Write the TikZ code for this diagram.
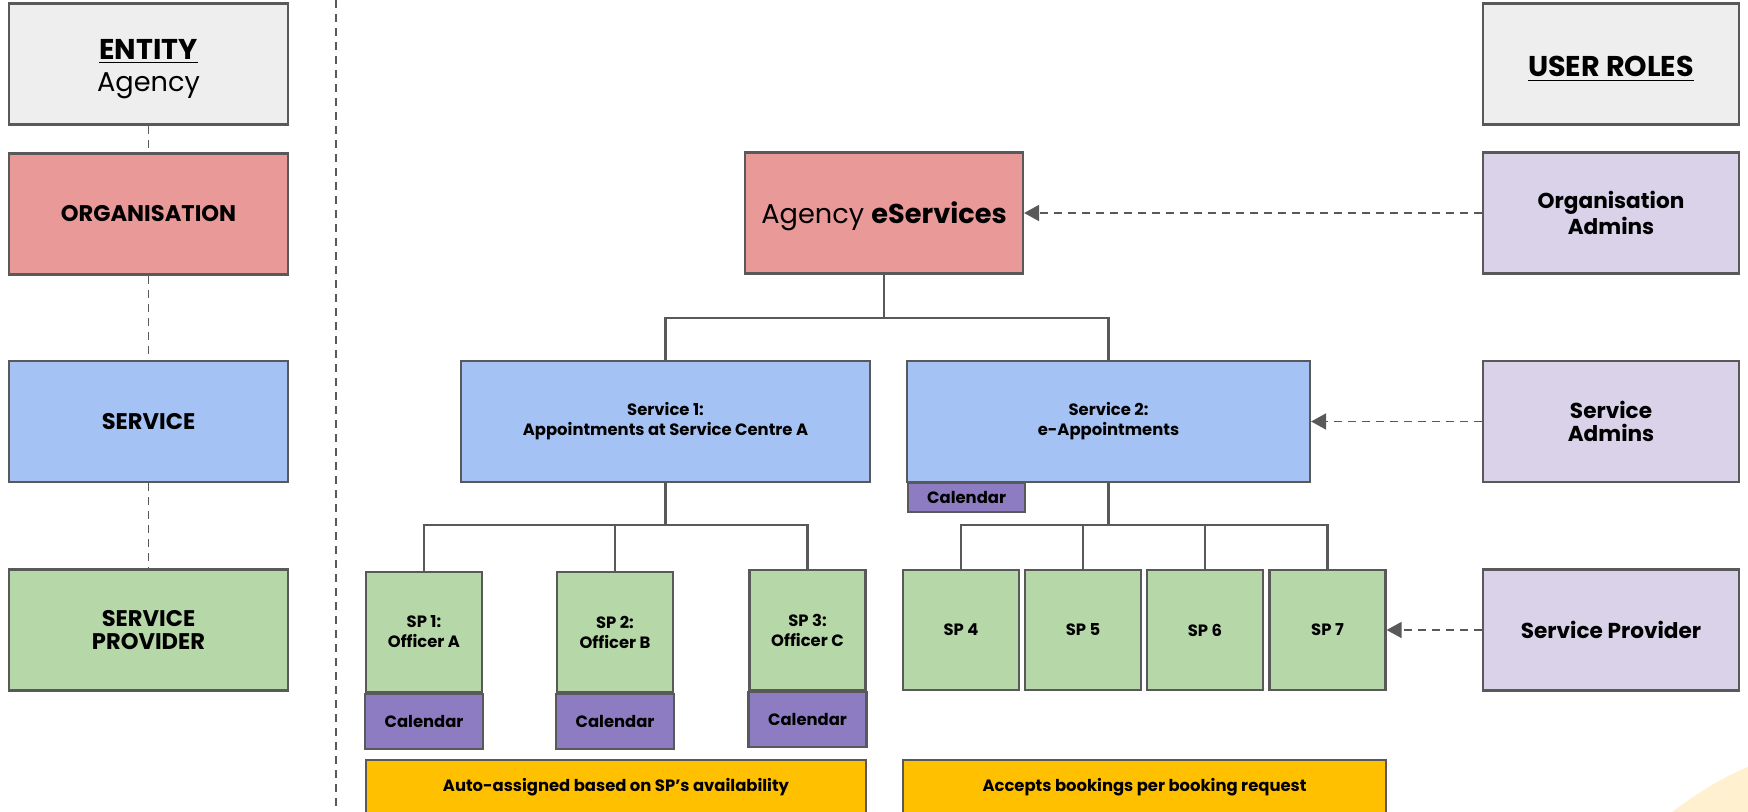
\documentclass[tikz,border=0pt]{standalone}
\usepackage{fontspec}
\setmainfont{Poppins}
\usetikzlibrary{arrows.meta}
\definecolor{linec}{HTML}{595959}
\definecolor{greyf}{HTML}{EEEEEE}
\definecolor{redf}{HTML}{EA9999}
\definecolor{bluef}{HTML}{A4C2F4}
\definecolor{greenf}{HTML}{B6D7A8}
\definecolor{lavf}{HTML}{D9D2E9}
\definecolor{calf}{HTML}{8E7CC3}
\definecolor{yelf}{HTML}{FFC000}
\definecolor{blobf}{HTML}{FFF0CF}
\newcommand{\fHead}{\fontsize{13.6}{16}\selectfont}
\newcommand{\fHeadB}{\fontsize{14.3}{16}\selectfont\bfseries}
\newcommand{\fMid}{\fontsize{11.3}{11.6}\selectfont\bfseries}
\newcommand{\fRole}{\fontsize{10.8}{11.6}\selectfont\bfseries}
\newcommand{\fSmall}{\fontsize{8.2}{10}\selectfont\bfseries}
\begin{document}
\begin{tikzpicture}[x=0.5pt,y=-0.5pt,
  box/.style={draw=linec, line width=1.1pt, inner sep=0pt, align=center, text=black},
  lbl/.style={inner sep=0pt, anchor=base, text=black},
  wh/.style 2 args={minimum width={#1*0.5pt}, minimum height={#2*0.5pt}},
  conn/.style={draw=linec, line width=1.1pt},
  dconn/.style={draw=linec, line width=0.9pt, dash pattern=on 4pt off 3pt},
  arr/.style={draw=linec, line width=0.9pt, dash pattern=on 4pt off 3pt, -{Triangle[length=7.5pt,width=8pt]}}
]
\useasboundingbox (0,0) rectangle (1748,812);
\fill[white] (0,0) rectangle (1748,812);
% background blob
\fill[blobf] (1672,812) .. controls (1692,797) and (1722,777) .. (1748,767) -- (1748,812) -- cycle;

% separator
\coordinate (septop) at (336,0);
\coordinate (sepbot) at (336,812);
\draw[dconn] (septop) -- (sepbot);

% left column
\node[box, fill=greyf, wh={279}{121}] (entity) at (148.5,64) {};
\node[lbl, font=\fHeadB] (entityT) at (148.5,60) {\underline{ENTITY}};
\node[lbl, font=\fHead] (entityA) at (148.5,92) {Agency};
\node[box, fill=redf, wh={279}{121}, font=\fMid] (org) at (148.5,214) {ORGANISATION};
\node[box, fill=bluef, wh={279}{121}, font=\fMid] (svc) at (148.5,421.5) {SERVICE};
\node[box, fill=greenf, wh={279}{121}, font=\fMid] (sprov) at (148.5,630) {SERVICE\\PROVIDER};
\draw[dconn] (entity.south) -- (org.north);
\draw[dconn] (org.south) -- (svc.north);
\draw[dconn] (svc.south) -- (sprov.north);

% right column
\node[box, fill=greyf, wh={256}{121}] (roles) at (1611,64) {};
\node[lbl, font=\fHeadB] (rolesT) at (1611,77) {\underline{USER ROLES}};
\node[box, fill=lavf, wh={256}{121}, font=\fRole] (orgadm) at (1611,213) {Organisation\\Admins};
\node[box, fill=lavf, wh={256}{121}, font=\fRole] (svcadm) at (1611,421.5) {Service\\Admins};
\node[box, fill=lavf, wh={256}{121}, font=\fRole] (spadm) at (1611,630) {Service Provider};

% main tree
\node[box, fill=redf, wh={278}{121}] (eserv) at (884,213) {};
\node[lbl, font=\fHead] (eservT) at (884,224) {Agency \textbf{eServices}};
\node[box, fill=bluef, wh={409}{121}, font=\fSmall] (svc1) at (665.5,421.5) {Service 1:\\Appointments at Service Centre A};
\node[box, fill=bluef, wh={403}{121}, font=\fSmall] (svc2) at (1108.5,421.5) {Service 2:\\e-Appointments};
\node[box, fill=calf, wh={117}{29}, font=\fSmall, anchor=north west] (cal0) at (907,482) {Calendar};

\node[box, fill=greenf, wh={116}{120}, font=\fSmall] (sp1) at (424,632) {SP 1:\\Officer A};
\node[box, fill=greenf, wh={116}{120}, font=\fSmall] (sp2) at (615,632) {SP 2:\\Officer B};
\node[box, fill=greenf, wh={116}{120}, font=\fSmall] (sp3) at (807.5,630) {SP 3:\\Officer C};
\node[box, fill=calf, wh={118}{55}, font=\fSmall, anchor=north] (cal1) at (sp1.south) {Calendar};
\node[box, fill=calf, wh={118}{55}, font=\fSmall, anchor=north] (cal2) at (sp2.south) {Calendar};
\node[box, fill=calf, wh={118}{55}, font=\fSmall, anchor=north] (cal3) at (sp3.south) {Calendar};

\node[box, fill=greenf, wh={116}{120}, font=\fSmall] (sp4) at (961,630) {SP 4};
\node[box, fill=greenf, wh={116}{120}, font=\fSmall] (sp5) at (1083,630) {SP 5};
\node[box, fill=greenf, wh={116}{120}, font=\fSmall] (sp6) at (1205,630) {SP 6};
\node[box, fill=greenf, wh={116}{120}, font=\fSmall] (sp7) at (1327.5,630) {SP 7};

\node[box, fill=yelf, wh={500}{54}, font=\fSmall] (note1) at (616,787) {Auto-assigned based on SP’s availability};
\node[box, fill=yelf, wh={483}{54}, font=\fSmall] (note2) at (1144.5,787) {Accepts bookings per booking request};

% tree connectors
\coordinate (b0) at (884,318);
\coordinate (b1) at (665.5,525);
\coordinate (b2) at (1108.5,525);
\draw[conn] (eserv.south) -- (b0);
\draw[conn] (svc1.north) |- (b0) -| (svc2.north);
\draw[conn] (svc1.south) -- (b1);
\draw[conn] (sp1.north) |- (b1) -| (sp3.north);
\draw[conn] (sp2.north) |- (b1);
\draw[conn] (svc2.south) -- (b2);
\draw[conn] (sp4.north) |- (b2) -| (sp7.north);
\draw[conn] (sp5.north) |- (b2);
\draw[conn] (sp6.north) |- (b2);

% role arrows
\draw[arr] (orgadm.west) -- (eserv.east);
\draw[arr] (svcadm.west) -- (svc2.east);
\draw[arr] (spadm.west) -- (sp7.east);
\end{tikzpicture}
\end{document}
